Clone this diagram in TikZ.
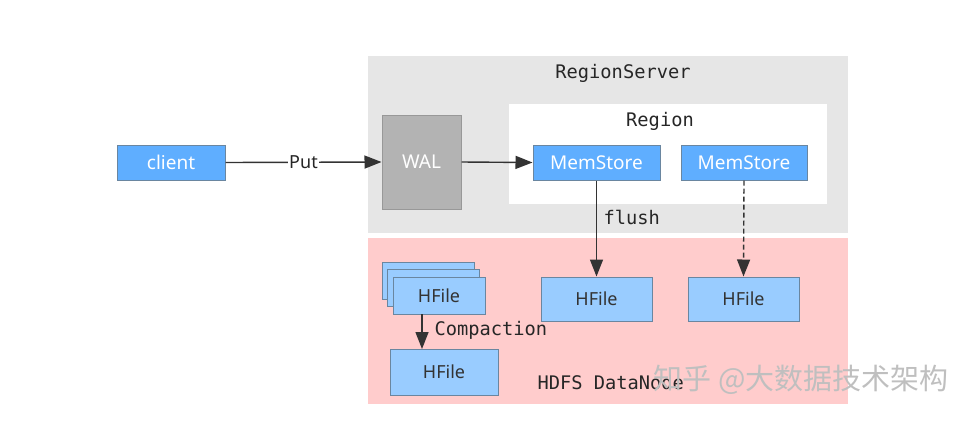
\documentclass[tikz,border=0pt]{standalone}
\usepackage{fontspec}
\setmainfont{Noto Sans}
\setmonofont{DejaVu Sans Mono}
\newfontfamily\cjk{Noto Sans CJK SC}
\usetikzlibrary{arrows.meta}
\definecolor{bluefill}{HTML}{5FAEFF}
\definecolor{lightblue}{HTML}{99CCFF}
\definecolor{boxborder}{HTML}{6A86A0}
\definecolor{rsgray}{HTML}{E6E6E6}
\definecolor{walgray}{HTML}{B3B3B3}
\definecolor{pinkbg}{HTML}{FFCCCC}
\definecolor{linec}{HTML}{333333}
\tikzset{
  x=1pt, y=-1pt,
  nodefont/.style={font=\fontsize{19}{22}\selectfont},
  darkbox/.style={draw=boxborder, line width=1pt, fill=bluefill, text=white, nodefont},
  filebox/.style={draw=boxborder, line width=1pt, fill=lightblue, text=black!80, font=\fontsize{18}{21}\selectfont},
  monolabel/.style={font=\ttfamily\fontsize{18.7}{22}\selectfont, text=black!85},
  conn/.style={draw=linec, line width=1.4pt, -{Triangle[length=17pt,width=13pt]}},
}
\begin{document}
\begin{tikzpicture}
\useasboundingbox (0,0) rectangle (971,421);
% containers
\fill[rsgray] (368,56) rectangle (848,233);
\node[monolabel] (rstitle) at (623,73) {RegionServer};
\fill[pinkbg] (368,238) rectangle (848,404);
\fill[white] (509,104) rectangle (827,204);
\node[monolabel] (regtitle) at (660,121) {Region};
% nodes
\node[darkbox, minimum width=108pt, minimum height=35pt] (client) at (171,162.5) {client};
\node[draw=walgray!85!black, line width=1pt, fill=walgray, text=white, nodefont, minimum width=79pt, minimum height=94pt] (wal) at (421.5,162) {WAL};
\node[darkbox, minimum width=127pt, minimum height=35pt] (ms1) at (596.5,162.5) {MemStore};
\node[darkbox, minimum width=126pt, minimum height=35pt] (ms2) at (744,162.5) {MemStore};
\node[filebox, minimum width=111pt, minimum height=44pt] (hf1) at (596.5,299) {HFile};
\node[filebox, minimum width=111pt, minimum height=44pt] (hf2) at (743.5,299) {HFile};
% stacked hfiles
\node[filebox, minimum width=92pt, minimum height=37pt] (hfs3) at (428,281) {};
\node[filebox, minimum width=92pt, minimum height=37pt] (hfs2) at (433,288) {};
\node[filebox, minimum width=92pt, minimum height=37pt] (hfs1) at (439,295.5) {HFile};
\node[filebox, minimum width=108pt, minimum height=46pt] (hfc) at (444,372) {HFile};
% connectors
\draw[conn] (client.east) -- node[fill=white, inner sep=1pt, font=\fontsize{18}{20}\selectfont, text=black!85] (put) {Put} (wal.west);
\draw[conn] (wal.east) -- (ms1.west);
\draw[conn] (ms1.south) -- node[monolabel, right=3pt, pos=0.38] (flush) {flush} (hf1.north);
\draw[conn, dashed, dash pattern=on 5pt off 3pt] (ms2.south) -- (hf2.north);
\coordinate (cstart) at (422,314);
\coordinate (cend) at (422,349);
\draw[conn] (cstart) -- (cend);
\node[monolabel, anchor=west] (comp) at (431,330) {Compaction};
\node[monolabel, anchor=west] (hdfs) at (534,383) {HDFS DataNode};
\node[font=\cjk\fontsize{29}{32}\selectfont, text=black!25, anchor=west] (wm) at (650,380) {知乎 @大数据技术架构};
\end{tikzpicture}
\end{document}
